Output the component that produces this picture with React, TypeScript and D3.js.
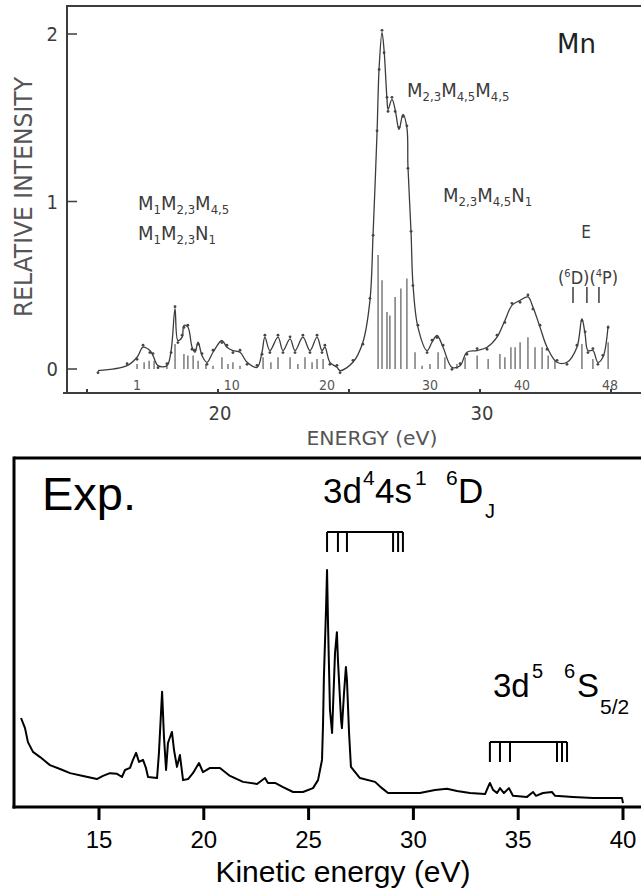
import React from "react";
import * as d3 from "d3";

// ---------- Top panel (calculated / measured Auger spectrum, Mn) ----------
const topCurve: [number, number][] = [
  [15.42, -0.01], [16.53, 0.02], [16.91, 0.07], [17.14, 0.13], [17.4, 0.11], [17.52, 0.08],
  [17.71, 0.02], [18.05, 0.02], [18.21, 0.11], [18.36, 0.36], [18.47, 0.17], [18.63, 0.19],
  [18.7, 0.26], [18.85, 0.25], [19.01, 0.13], [19.12, 0.1], [19.24, 0.16], [19.39, 0.08],
  [19.58, 0.04], [19.81, 0.1], [20.15, 0.17], [20.34, 0.13], [20.57, 0.11], [20.84, 0.1],
  [21.11, 0.04], [21.49, 0.01], [21.68, 0.1], [21.79, 0.19], [21.98, 0.11], [22.29, 0.19],
  [22.48, 0.11], [22.75, 0.18], [22.94, 0.11], [23.24, 0.19], [23.51, 0.11], [23.78, 0.19],
  [23.97, 0.11], [24.08, 0.13], [24.27, 0.04], [24.54, 0.01], [24.66, -0.01], [25.15, 0.04],
  [25.53, 0.16], [25.8, 0.41], [25.92, 0.81], [26.07, 1.41], [26.15, 1.8], [26.26, 2.01],
  [26.34, 1.9], [26.45, 1.61], [26.49, 1.55], [26.64, 1.61], [26.76, 1.55], [26.91, 1.43],
  [27.06, 1.52], [27.21, 1.44], [27.25, 1.21], [27.37, 0.81], [27.44, 0.51], [27.63, 0.25],
  [27.98, 0.11], [28.17, 0.16], [28.36, 0.2], [28.59, 0.13], [28.93, 0.01], [29.24, 0.02],
  [29.5, 0.1], [29.89, 0.11], [30.27, 0.13], [30.65, 0.19], [30.95, 0.29], [31.22, 0.38],
  [31.53, 0.41], [31.83, 0.43], [32.02, 0.37], [32.29, 0.25], [32.56, 0.13], [32.94, 0.04],
  [33.32, 0.04], [33.7, 0.13], [33.89, 0.3], [34.01, 0.21], [34.12, 0.11], [34.31, 0.11],
  [34.5, 0.04], [34.69, 0.07], [34.89, 0.26],
];

const topSticks: [number, number][] = [
  [16.91, 0.03], [17.18, 0.04], [17.37, 0.05], [17.56, 0.05], [18.05, 0.02], [18.36, 0.15],
  [18.7, 0.09], [18.85, 0.08], [19.05, 0.08], [19.24, 0.05], [19.54, 0.03], [19.81, 0.02],
  [20.15, 0.07], [20.38, 0.03], [20.57, 0.04], [20.84, 0.02], [21.72, 0.07], [22.02, 0.04],
  [22.29, 0.07], [22.75, 0.07], [23.05, 0.03], [23.32, 0.07], [23.59, 0.04], [23.78, 0.06],
  [24.01, 0.06], [26.11, 0.68], [26.26, 0.53], [26.45, 0.34], [26.56, 0.32], [26.76, 0.43],
  [26.98, 0.48], [27.21, 0.54], [27.52, 0.1], [27.79, 0.02], [28.09, 0.03], [28.4, 0.1],
  [28.66, 0.07], [29.12, 0.03], [29.43, 0.07], [29.89, 0.08], [30.31, 0.06], [30.76, 0.09],
  [30.95, 0.07], [31.18, 0.13], [31.34, 0.13], [31.53, 0.16], [31.83, 0.19], [32.1, 0.13],
  [32.37, 0.13], [32.6, 0.08], [32.86, 0.05], [33.89, 0.15], [34.31, 0.06], [34.89, 0.16],
];

const topYTicks = [0, 1, 2];
const topXTickLabels = [20, 30];
const topXDots = [15, 20, 25, 30, 35];
const lineIndexLabels = ["1", "10", "20", "30", "40", "48"];
const lineIndexEnergies = [16.91, 20.53, 24.16, 28.09, 31.6, 34.96];
const termMarkerEnergies = [33.55, 34.08, 34.54];

// ---------- Bottom panel (experiment) ----------
const expCurve: [number, number][] = [
  [11.28, 0.255], [11.47, 0.226], [11.61, 0.186], [11.85, 0.158], [12.19, 0.143], [12.66, 0.12],
  [13.14, 0.109], [13.62, 0.097], [14.24, 0.089], [14.9, 0.08], [15.19, 0.089], [15.52, 0.097],
  [15.86, 0.095], [16.1, 0.086], [16.24, 0.106], [16.48, 0.112], [16.62, 0.135], [16.77, 0.155],
  [16.91, 0.129], [17.1, 0.135], [17.24, 0.112], [17.34, 0.086], [17.77, 0.083], [17.86, 0.155],
  [18.01, 0.33], [18.1, 0.201], [18.2, 0.106], [18.29, 0.183], [18.34, 0.192], [18.48, 0.215],
  [18.58, 0.163], [18.72, 0.115], [18.86, 0.149], [19.01, 0.077], [19.25, 0.08], [19.48, 0.097],
  [19.77, 0.126], [19.96, 0.1], [20.3, 0.112], [20.77, 0.112], [21.25, 0.089], [21.87, 0.072],
  [22.54, 0.066], [22.92, 0.083], [23.06, 0.069], [23.4, 0.069], [23.78, 0.057], [24.26, 0.043],
  [24.73, 0.043], [25.21, 0.054], [25.45, 0.077], [25.64, 0.135], [25.69, 0.241], [25.73, 0.372],
  [25.83, 0.564], [25.88, 0.679], [25.93, 0.516], [26.02, 0.278], [26.12, 0.212], [26.16, 0.278],
  [26.26, 0.441], [26.35, 0.501], [26.4, 0.421], [26.55, 0.249], [26.59, 0.226], [26.69, 0.327],
  [26.78, 0.401], [26.83, 0.364], [26.93, 0.212], [27.02, 0.115], [27.45, 0.083], [28.17, 0.072],
  [28.5, 0.054], [28.79, 0.04], [29.69, 0.04], [30.31, 0.04], [31.03, 0.049], [31.6, 0.052],
  [32.08, 0.046], [32.7, 0.04], [33.42, 0.037], [33.56, 0.057], [33.65, 0.069], [33.8, 0.049],
  [33.99, 0.04], [34.13, 0.054], [34.32, 0.04], [34.56, 0.054], [34.75, 0.032], [35.42, 0.029],
  [35.71, 0.043], [35.85, 0.032], [36.18, 0.04], [36.61, 0.043], [36.76, 0.032], [37.61, 0.029],
  [38.57, 0.026], [39.52, 0.026], [39.95, 0.026], [40.0, 0.011],
];

const expXTicks = [15, 20, 25, 30, 35, 40];
const bracketD = [25.88, 26.4, 26.83, 29.03, 29.27, 29.5];
const bracketS = [33.65, 34.13, 34.61, 36.85, 37.09, 37.33];

const W = 641;
const H = 888;

const TOPFONT = "'DejaVu Sans Condensed', 'DejaVu Sans', sans-serif";
const BOTFONT = "'Liberation Sans', Arial, sans-serif";
const GRAY = "#3c3c3c";

type Part = [string, string];

function SubLabel(props: { x: number; y: number; parts: Part[]; size: number; subSize: number; shift: number; fill?: string }) {
  const { x, y, parts, size, subSize, shift, fill } = props;
  return (
    <text x={x} y={y} fontSize={size} fontFamily={TOPFONT} fontStretch="condensed" fill={fill || GRAY}>
      {parts.map(([m, s], i) => (
        <React.Fragment key={i}>
          <tspan dy={i === 0 ? 0 : -shift}>{m}</tspan>
          <tspan fontSize={subSize} dy={shift}>{s}</tspan>
        </React.Fragment>
      ))}
    </text>
  );
}

export default function App() {
  const tx = d3.scaleLinear().domain([15, 35]).range([87, 611]);
  const ty = d3.scaleLinear().domain([0, 2]).range([369, 34]);
  const bx = d3.scaleLinear().domain([15, 40]).range([99, 623]);
  const by = d3.scaleLinear().domain([0, 1]).range([807, 458]);

  const topLine = d3
    .line<[number, number]>()
    .x((d) => tx(d[0]))
    .y((d) => ty(d[1]))
    .curve(d3.curveCatmullRom.alpha(0.5));

  const expLine = d3
    .line<[number, number]>()
    .x((d) => bx(d[0]))
    .y((d) => by(d[1]));

  const bracket = (es: number[], yTop: number, yBot: number, key: string) => (
    <g key={key} stroke="#000" strokeWidth={2} fill="none">
      <line x1={bx(es[0])} x2={bx(es[es.length - 1])} y1={yTop} y2={yTop} />
      {es.map((e, i) => (
        <line key={i} x1={bx(e)} x2={bx(e)} y1={yTop} y2={yBot} />
      ))}
    </g>
  );

  return (
    <svg width={W} height={H} style={{ position: "absolute", left: 0, top: 0, background: "#fff" }}>
      <rect x={0} y={0} width={W} height={H} fill="#fff" />

      {/* ===== TOP PANEL ===== */}
      <g>
        {/* frame */}
        <line x1={67} x2={67} y1={6} y2={393} stroke={GRAY} strokeWidth={2} />
        <line x1={66} x2={641} y1={6} y2={6} stroke={GRAY} strokeWidth={2} />
        <line x1={63} x2={641} y1={393} y2={393} stroke={GRAY} strokeWidth={2} />

        {/* y ticks */}
        {topYTicks.map((t) => (
          <g key={t}>
            <line x1={67} x2={77} y1={ty(t)} y2={ty(t)} stroke={GRAY} strokeWidth={1.5} />
            <text x={58} y={ty(t) + 7} textAnchor="end" fontSize={20} fontFamily={TOPFONT} fontStretch="condensed" fill={GRAY}>
              {t}
            </text>
          </g>
        ))}
        <text
          transform="translate(32,197) rotate(-90)"
          textAnchor="middle"
          fontSize={24}
          fontFamily={TOPFONT}
          fontStretch="condensed"
          fill="#555"
          textLength={240}
          lengthAdjust="spacingAndGlyphs"
        >
          RELATIVE INTENSITY
        </text>

        {/* x dots on axis */}
        {topXDots.map((e) => (
          <line key={e} x1={tx(e)} x2={tx(e)} y1={393} y2={389} stroke={GRAY} strokeWidth={2} />
        ))}
        {topXTickLabels.map((e) => (
          <text key={e} x={tx(e) + 2} y={420} textAnchor="middle" fontSize={20} fontFamily={TOPFONT} fontStretch="condensed" fill={GRAY}>
            {e}
          </text>
        ))}
        <text x={372} y={445} textAnchor="middle" fontSize={19} fontFamily={TOPFONT} fontStretch="condensed" fill="#555" textLength={131} lengthAdjust="spacingAndGlyphs">
          ENERGY (eV)
        </text>

        {/* line index labels */}
        {lineIndexLabels.map((l, i) => (
          <text key={l} x={tx(lineIndexEnergies[i])} y={390} textAnchor="middle" fontSize={14} fontFamily={TOPFONT} fontStretch="condensed" fill="#555">
            {l}
          </text>
        ))}

        {/* stick spectrum */}
        {topSticks.map(([e, v], i) => (
          <line key={i} x1={tx(e)} x2={tx(e)} y1={ty(0)} y2={ty(v)} stroke="#666" strokeWidth={1.3} />
        ))}

        {/* curve */}
        <path d={topLine(topCurve) || ""} fill="none" stroke={GRAY} strokeWidth={1.3} />
        {topCurve.map(([e, v], i) => (
          <circle key={i} cx={tx(e)} cy={ty(v) + (i % 2 === 0 ? 2 : -2)} r={1.4} fill="#444" />
        ))}

        {/* term markers */}
        {termMarkerEnergies.map((e) => (
          <line key={e} x1={tx(e)} x2={tx(e)} y1={287} y2={303} stroke={GRAY} strokeWidth={1.5} />
        ))}

        {/* labels */}
        <SubLabel x={138} y={210} size={20} subSize={13} shift={4} parts={[["M", "1"], ["M", "2,3"], ["M", "4,5"]]} />
        <SubLabel x={138} y={240} size={20} subSize={13} shift={4} parts={[["M", "1"], ["M", "2,3"], ["N", "1"]]} />
        <SubLabel x={407} y={97} size={20} subSize={13} shift={4} parts={[["M", "2,3"], ["M", "4,5"], ["M", "4,5"]]} />
        <SubLabel x={443} y={202} size={20} subSize={13} shift={4} parts={[["M", "2,3"], ["M", "4,5"], ["N", "1"]]} />
        <text x={557} y={53} fontSize={26} fontFamily="'DejaVu Sans', sans-serif" fill="#222">
          Mn
        </text>
        <text x={586} y={238} textAnchor="middle" fontSize={17} fontFamily={TOPFONT} fontStretch="condensed" fill={GRAY}>
          E
        </text>
        <text x={558} y={284} fontSize={18} fontFamily={TOPFONT} fontStretch="condensed" fill={GRAY}>
          <tspan>(</tspan>
          <tspan fontSize={11} dy={-7}>6</tspan>
          <tspan dy={7}>D)(</tspan>
          <tspan fontSize={11} dy={-7}>4</tspan>
          <tspan dy={7}>P)</tspan>
        </text>
      </g>

      {/* ===== BOTTOM PANEL ===== */}
      <g>
        <line x1={14} x2={641} y1={458} y2={458} stroke="#000" strokeWidth={3} />
        <line x1={14} x2={14} y1={456.5} y2={808.5} stroke="#000" strokeWidth={3} />
        <line x1={12.5} x2={641} y1={807} y2={807} stroke="#000" strokeWidth={3} />

        {expXTicks.map((t) => (
          <g key={t}>
            <line x1={bx(t)} x2={bx(t)} y1={807} y2={820} stroke="#000" strokeWidth={3} />
            <text x={bx(t)} y={848} textAnchor="middle" fontSize={24} fontFamily={BOTFONT} fill="#000">
              {t}
            </text>
          </g>
        ))}
        <text x={343} y={882} textAnchor="middle" fontSize={30} fontFamily={BOTFONT} fill="#000">
          Kinetic energy (eV)
        </text>

        <path d={expLine(expCurve) || ""} fill="none" stroke="#000" strokeWidth={2} strokeLinejoin="round" />

        {bracket(bracketD, 532, 552, "bd")}
        {bracket(bracketS, 742, 762, "bs")}

        <text x={42} y={510} fontSize={47} fontFamily={BOTFONT} fill="#000">
          Exp.
        </text>

        <g fontFamily={BOTFONT} fill="#000">
          <text x={323} y={503} fontSize={35}>3d</text>
          <text x={363} y={485} fontSize={21}>4</text>
          <text x={375} y={503} fontSize={35}>4s</text>
          <text x={415} y={485} fontSize={21}>1</text>
          <text x={446} y={485} fontSize={21}>6</text>
          <text x={458} y={503} fontSize={35}>D</text>
          <text x={485} y={518} fontSize={20}>J</text>

          <text x={493} y={697} fontSize={33}>3d</text>
          <text x={532} y={678} fontSize={20}>5</text>
          <text x={564} y={678} fontSize={20}>6</text>
          <text x={577} y={697} fontSize={33}>S</text>
          <text x={600} y={714} fontSize={21}>5/2</text>
        </g>
      </g>
    </svg>
  );
}
